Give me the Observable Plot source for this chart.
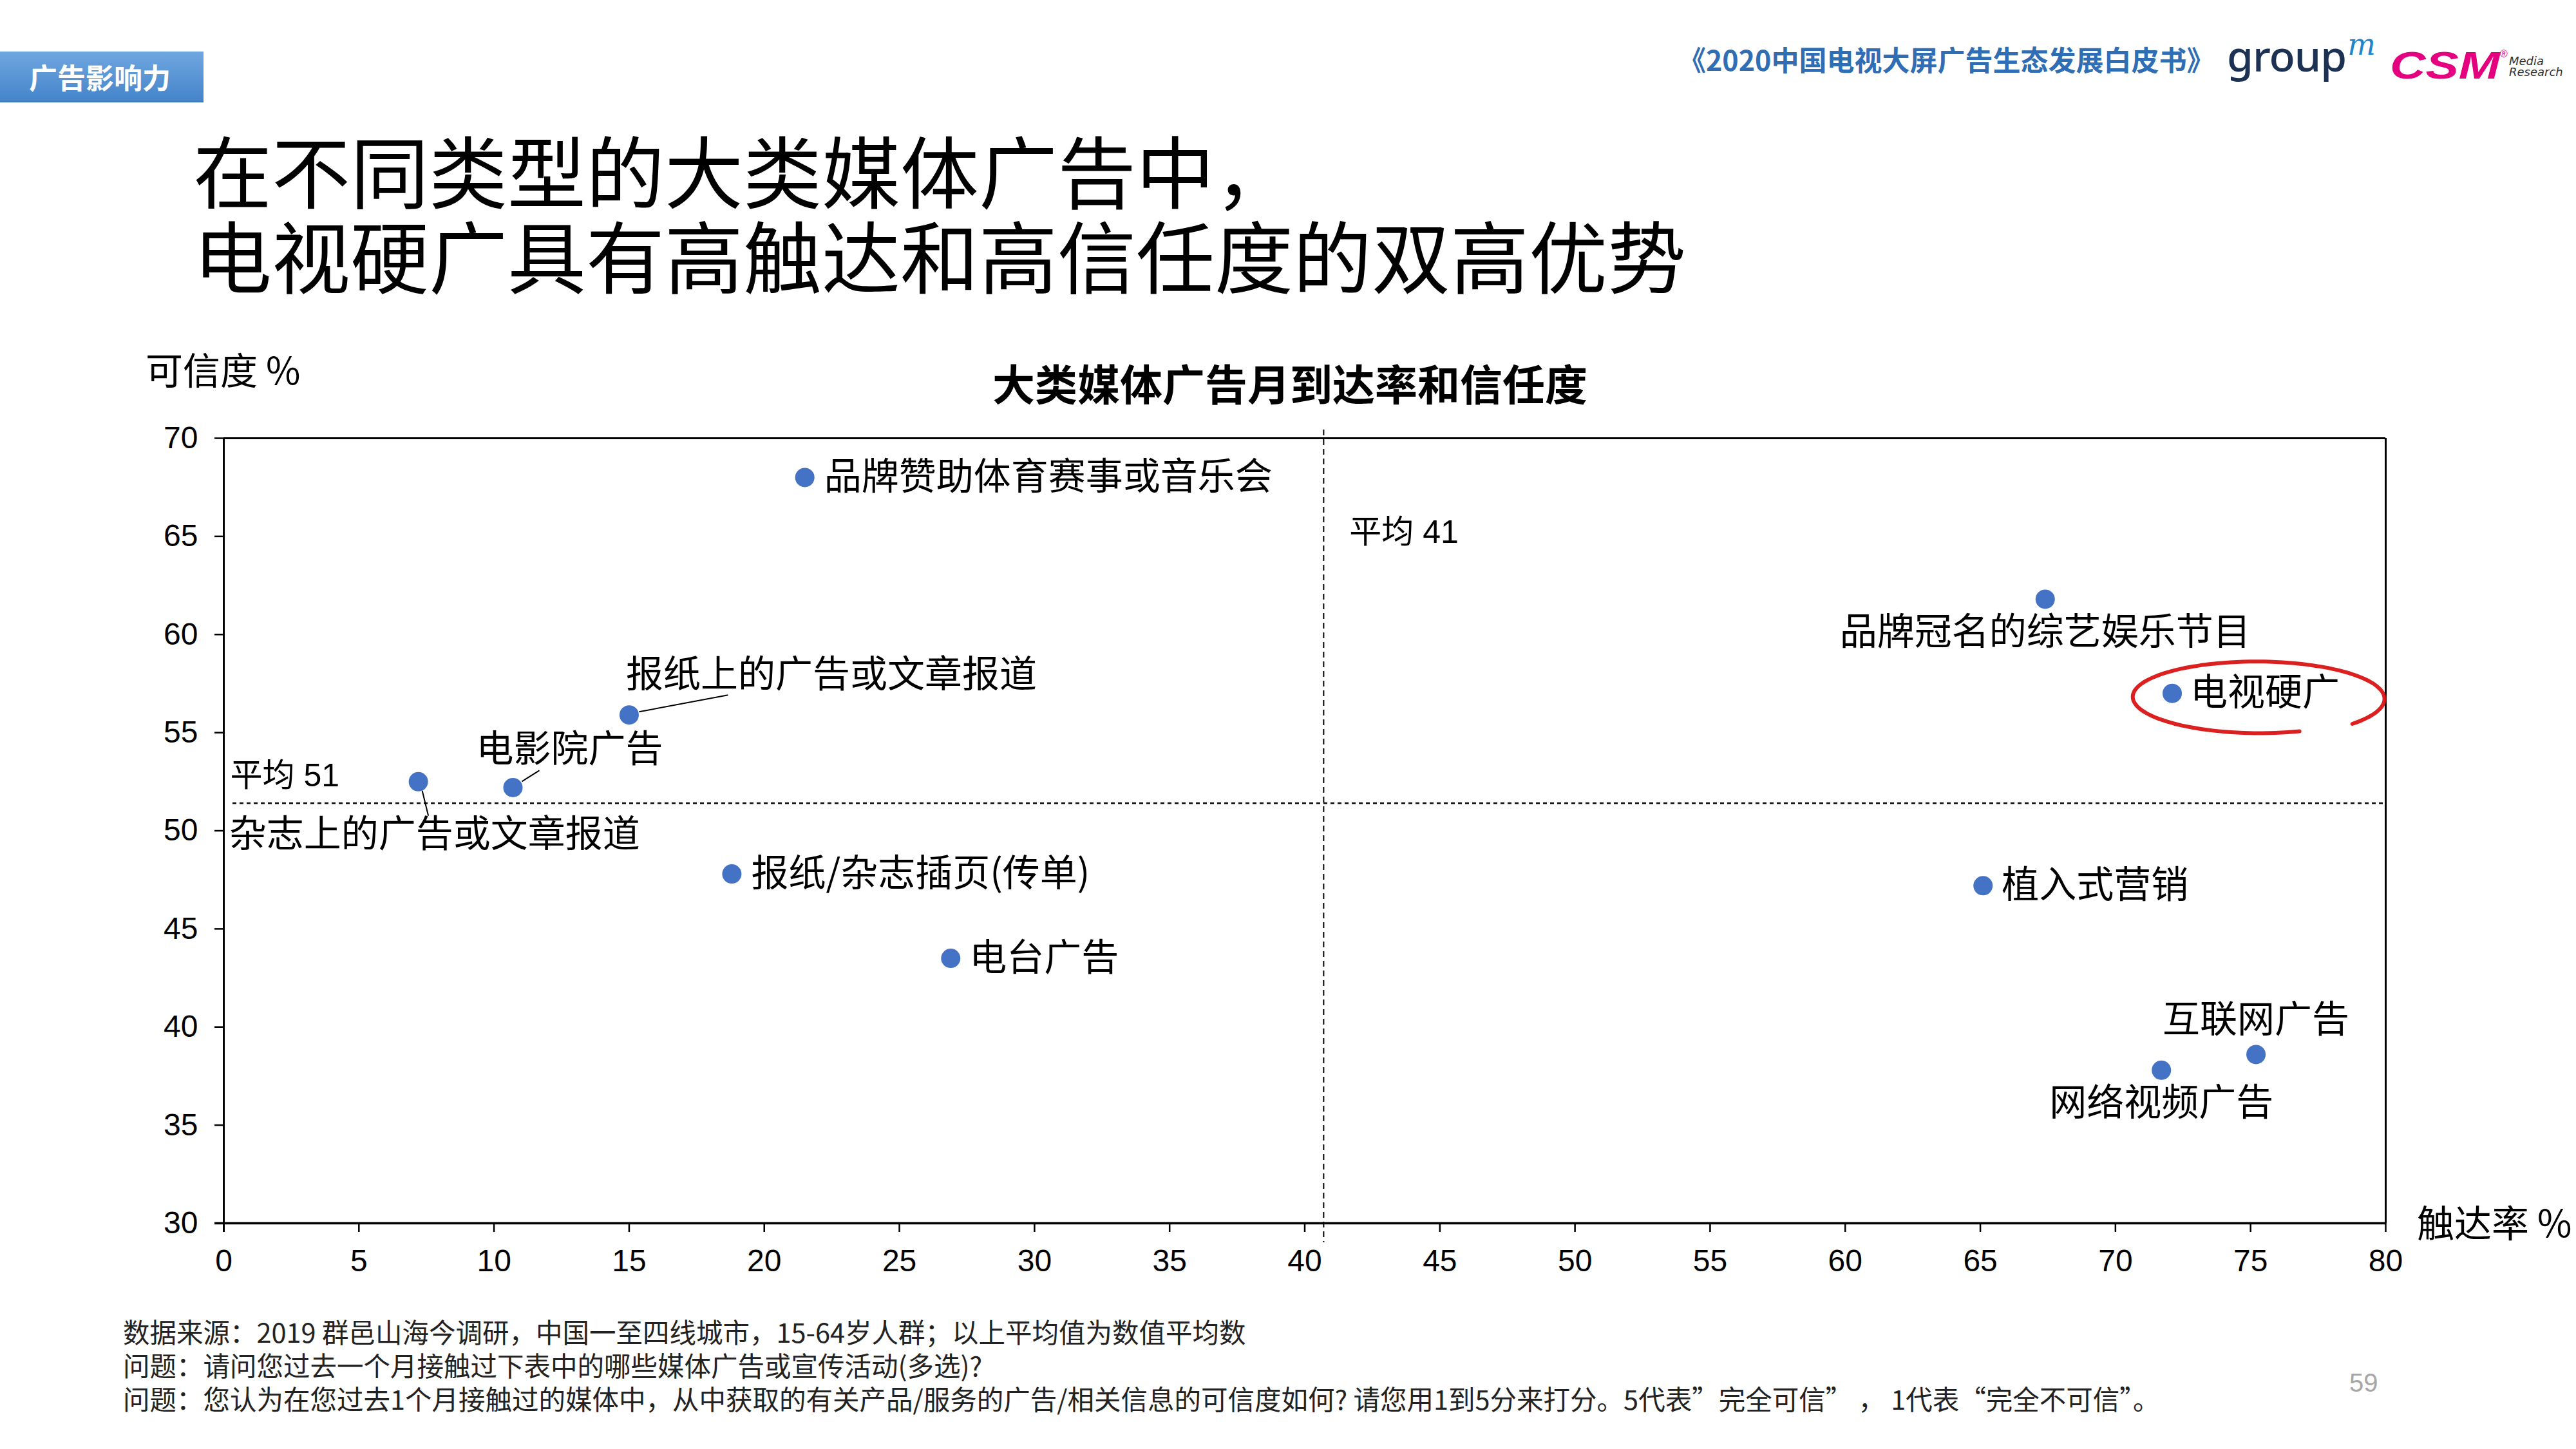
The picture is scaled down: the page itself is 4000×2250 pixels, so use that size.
<!DOCTYPE html>
<html>
<head>
<meta charset="utf-8">
<script src="https://cdn.jsdelivr.net/npm/d3@7"></script>
<script src="https://cdn.jsdelivr.net/npm/@observablehq/plot@0.6"></script>
<style>
html, body { margin: 0; padding: 0; background: #fff; }
#page { position: relative; width: 4000px; height: 2250px; overflow: hidden; background: #fff; color: #000; }
.abs { position: absolute; white-space: nowrap; line-height: 1; font-family: "Noto Sans CJK SC", sans-serif; }
#badge { left: 0; top: 80px; width: 316px; height: 79px; background: linear-gradient(#6fa7e0, #4584ca); border-bottom: 2px solid #3f78b8; box-sizing: border-box;
  color: #fff; font-weight: 700; font-size: 44px; display: flex; align-items: center; justify-content: center; padding-right: 6px; }
#header { left: 2606px; top: 70px; font-size: 43px; font-weight: 700; color: #2f6db4; }
#title { left: 300px; top: 195px; font-size: 122px; line-height: 132px; font-weight: 400; color: #000; }
#chartTitle { left: 2003px; top: 560px; font-size: 66px; font-weight: 700; transform: translateX(-50%); }
.axisLabel { font-size: 58px; }
#foot { left: 191px; top: 2041px; font-size: 41.5px; line-height: 52px; color: #222; }
#pageNum { left: 3648px; top: 2127px; font-size: 40px; color: #a6a6a6; font-family: "Liberation Sans", sans-serif; }
#groupm { left: 3458px; top: 52px; font-family: "Noto Sans", sans-serif; font-size: 66px; color: #1d3253; font-weight: 500; letter-spacing: -1px; }
#groupm sup { font-family: "DejaVu Serif", serif; font-style: italic; color: #2186c9; font-size: 46px; position: relative; top: -6px; vertical-align: top; margin-left: 2px; }
#csm { left: 3711px; top: 72px; font-family: "Liberation Sans", sans-serif; font-weight: 700; font-style: italic; font-size: 60px; color: #e4007f; transform: scaleX(1.28); transform-origin: left center; }
#reg { left: 3882px; top: 76px; font-family: "Liberation Sans", sans-serif; font-size: 16px; color: #e4007f; }
#mr { left: 3896px; top: 86px; font-family: "DejaVu Sans", sans-serif; font-style: italic; font-size: 18px; line-height: 17px; color: #333; }
#chart { position: absolute; left: 0; top: 540px; }
</style>
</head>
<body>
<div id="page">
  <div id="badge" class="abs">广告影响力</div>
  <div id="header" class="abs">《2020中国电视大屏广告生态发展白皮书》</div>
  <div id="groupm" class="abs">group<sup>m</sup></div>
  <div id="csm" class="abs">CSM</div>
  <div id="reg" class="abs">®</div>
  <div id="mr" class="abs">Media<br>Research</div>
  <div id="title" class="abs">在不同类型的大类媒体广告中，<br>电视硬广具有高触达和高信任度的双高优势</div>
  <div id="chartTitle" class="abs">大类媒体广告月到达率和信任度</div>
  <div class="abs axisLabel" style="left:226px; top:543px;">可信度 %</div>
  <div class="abs axisLabel" style="left:3753px; top:1867px;">触达率 %</div>
  <div id="chart"></div>
  <div id="foot" class="abs">数据来源：2019 群邑山海今调研，中国一至四线城市，15-64岁人群；以上平均值为数值平均数<br>问题：请问您过去一个月接触过下表中的哪些媒体广告或宣传活动(多选)?<br>问题：您认为在您过去1个月接触过的媒体中，从中获取的有关产品/服务的广告/相关信息的可信度如何? 请您用1到5分来打分。5代表”完全可信” ， 1代表“完全不可信”。</div>
  <div id="pageNum" class="abs">59</div>
</div>
<script>
// ---- data ----
const media = ["品牌赞助体育赛事或音乐会", "报纸上的广告或文章报道", "电影院广告", "杂志上的广告或文章报道", "报纸/杂志插页(传单)", "电台广告", "品牌冠名的综艺娱乐节目", "电视硬广", "植入式营销", "互联网广告", "网络视频广告"];
const reach = [21.5, 15.0, 10.7, 7.2, 18.8, 26.9, 67.4, 72.1, 65.1, 75.2, 71.7];
const trust = [68.0, 55.9, 52.2, 52.5, 47.8, 43.5, 61.8, 57.0, 47.2, 38.6, 37.8];
const avgReach = 40.7;
const avgTrust = 51.4;
const xTicks = [0, 5, 10, 15, 20, 25, 30, 35, 40, 45, 50, 55, 60, 65, 70, 75, 80];
const yTicks = [30, 35, 40, 45, 50, 55, 60, 65, 70];
const highlight = "电视硬广";

const rows = media.map((m, i) => ({name: m, reach: reach[i], trust: trust[i]}));

// ---- label layout (pixel offsets) ----
const labelLayout = {
  "品牌赞助体育赛事或音乐会": {dx: 30, dy: 0, anchor: "start"},
  "报纸上的广告或文章报道": {dx: -5, dy: -62, anchor: "start"},
  "电影院广告": {dx: -57, dy: -59, anchor: "start"},
  "杂志上的广告或文章报道": {dx: -294, dy: 83, anchor: "start"},
  "报纸/杂志插页(传单)": {dx: 30, dy: 0, anchor: "start"},
  "电台广告": {dx: 29, dy: 0, anchor: "start"},
  "品牌冠名的综艺娱乐节目": {dx: 0, dy: 52, anchor: "middle"},
  "电视硬广": {dx: 28, dy: 0, anchor: "start"},
  "植入式营销": {dx: 29, dy: 0, anchor: "start"},
  "互联网广告": {dx: 0, dy: -53, anchor: "middle"},
  "网络视频广告": {dx: 0, dy: 52, anchor: "middle"}
};
const leaders = {
  "报纸上的广告或文章报道": [16, -4.5, 154, -30.4],
  "电影院广告": [14.5, -9, 41.5, -26],
  "杂志上的广告或文章报道": [6.5, 14.5, 16, 53.5]
};

const cjk = '"Noto Sans CJK SC", sans-serif';
const labelMarks = rows.map(r => {
  const L = labelLayout[r.name];
  return Plot.text([r], {x: "reach", y: "trust", text: "name", dx: L.dx, dy: L.dy, textAnchor: L.anchor,
    fontSize: 58, fontFamily: cjk, fill: "#000"});
});

const plot = Plot.plot({
  width: 4000,
  height: 1500,
  marginLeft: 347,
  marginRight: 296,
  marginTop: 140,
  marginBottom: 141,
  style: {fontFamily: '"Liberation Sans", "Noto Sans CJK SC", sans-serif', fontSize: "48px", color: "#000", background: "transparent", overflow: "visible"},
  x: {domain: [0, 80], label: null},
  y: {domain: [30, 70], label: null},
  marks: [
    Plot.ruleY([avgTrust], {stroke: "#000", strokeWidth: 2.5, strokeDasharray: "6,5", insetLeft: 14}),
    Plot.ruleX([avgReach], {stroke: "#000", strokeWidth: 2, strokeDasharray: "9,6", insetTop: -13, insetBottom: -30}),
    Plot.text([avgTrust], {x: 0, y: d => d, text: d => `平均 ${Math.round(d)}`, textAnchor: "start", lineAnchor: "middle", dx: 10, dy: -42, fontSize: 50}),
    Plot.text([avgReach], {x: d => d, frameAnchor: "top", text: d => `平均 ${Math.round(d)}`, textAnchor: "start", lineAnchor: "middle", dx: 40, dy: 146, fontSize: 50}),
    Plot.axisX(xTicks, {tickSize: 14, tickPadding: 26, strokeWidth: 2.5, fontSize: 48, label: null, tickFormat: d => String(d)}),
    Plot.axisY(yTicks, {tickSize: 14, tickPadding: 26, strokeWidth: 2.5, fontSize: 48, label: null, tickFormat: d => String(d)}),
    Plot.ruleY([70], {stroke: "#000", strokeWidth: 3}),
    Plot.ruleX([80], {stroke: "#000", strokeWidth: 3}),
    Plot.ruleY([30], {stroke: "#000", strokeWidth: 3.5, insetLeft: -14}),
    Plot.ruleX([0], {stroke: "#000", strokeWidth: 3, insetBottom: -14}),
    Plot.dot(rows, {x: "reach", y: "trust", r: 15, fill: "#4472C4", stroke: "none"}),
    ...labelMarks
  ]
});

document.getElementById("chart").appendChild(plot);

// leader lines and highlight ellipse derived from scales
const sx = plot.scale("x"), sy = plot.scale("y");
const svg = d3.select(plot);
const g = svg.append("g");
rows.forEach(r => {
  const L = leaders[r.name];
  if (!L) return;
  const px = sx.apply(r.reach), py = sy.apply(r.trust);
  g.append("line").attr("x1", px + L[0]).attr("y1", py + L[1]).attr("x2", px + L[2]).attr("y2", py + L[3])
    .attr("stroke", "#000").attr("stroke-width", 2);
});
const tv = rows.find(r => r.name === highlight);
const cx = sx.apply(tv.reach) + 131, cy = sy.apply(tv.trust) + 10;
const rx = 195, ry = 55;
const pts = [];
const a0 = 69, a1 = 404;
for (let a = a0; a <= a1; a += 3) {
  const t = (a - a0) / (a1 - a0);
  const k = 0.96 + 0.07 * t;
  const rad = a * Math.PI / 180;
  pts.push([cx + rx * k * Math.cos(rad), cy + ry * k * Math.sin(rad) - 4 * Math.sin(t * Math.PI)]);
}
g.append("path").attr("d", d3.line().curve(d3.curveCatmullRom)(pts))
  .attr("fill", "none").attr("stroke", "#d90d0d").attr("stroke-width", 6).attr("stroke-linecap", "round").attr("opacity", 0.92);
</script>
</body>
</html>
